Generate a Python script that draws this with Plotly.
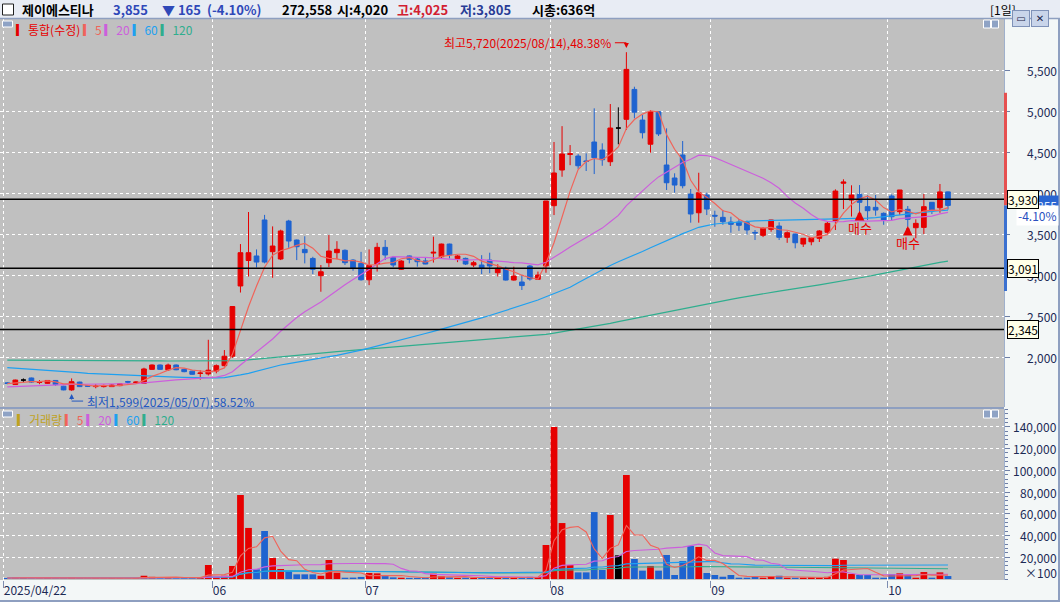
import numpy as np
import pandas as pd
import plotly.graph_objects as go
from plotly.subplots import make_subplots

# ---------------- data ----------------
holidays = ['2025-05-01', '2025-05-05', '2025-05-06', '2025-06-03', '2025-06-06',
            '2025-08-15', '2025-10-03', '2025-10-06', '2025-10-07', '2025-10-08', '2025-10-09']
dates = [d.strftime('%Y-%m-%d') for d in pd.bdate_range('2025-04-22', '2025-10-17')
         if d.strftime('%Y-%m-%d') not in holidays]

open_ = [1695, 1675, 1730, 1755, 1700, 1690, 1725, 1655, 1610, 1705, 1660, 1650, 1650, 1650, 1662, 1712, 1700, 1690, 1860, 1913,
         1855, 1913, 1860, 1838, 1810, 1805, 1840, 1905, 2020, 2875, 3185, 3240, 3678, 3292, 3203, 3665, 3434, 3320, 3210, 3000,
         3158, 3280, 3309, 3190, 3150, 2950, 3142, 3345, 3220, 3078, 3240, 3203, 3180, 3275, 3231, 3385, 3207, 3211, 3130, 3130,
         3190, 3036, 3090, 2947, 2923, 3118, 2956, 3120, 3852, 4286, 4475, 4456, 4396, 4627, 4529, 4387, 4797, 4903, 5267, 4894,
         4600, 4996, 4347, 4189, 4469, 3994, 3766, 3982, 3735, 3710, 3653, 3653, 3645, 3527, 3491, 3564, 3604, 3467, 3507, 3385,
         3413, 3455, 3528, 3669, 4125, 3921, 3990, 3840, 3832, 3759, 3970, 3779, 3808, 3584, 3588, 3893, 3827, 4020]
high = [1705, 1735, 1750, 1760, 1730, 1730, 1730, 1660, 1750, 1710, 1665, 1680, 1675, 1680, 1690, 1720, 1715, 1880, 1920, 1920,
        1930, 1920, 1870, 1845, 1850, 2220, 1920, 2095, 2625, 3385, 3775, 3320, 3740, 3600, 3560, 3680, 3440, 3480, 3230, 3130,
        3495, 3420, 3320, 3200, 3290, 3320, 3400, 3434, 3240, 3190, 3245, 3220, 3220, 3475, 3390, 3390, 3250, 3220, 3180, 3250,
        3280, 3140, 3110, 3110, 3010, 3130, 3050, 3909, 4627, 4820, 4590, 4480, 4489, 5037, 4611, 5089, 5049, 5720, 5300, 4955,
        5016, 5000, 4793, 4246, 4639, 4055, 4253, 4010, 3791, 3800, 3718, 3690, 3670, 3556, 3590, 3680, 3650, 3540, 3510, 3460,
        3470, 3555, 3660, 4051, 4173, 4100, 4103, 3980, 3982, 3770, 3990, 4043, 3848, 3686, 3994, 3893, 4116, 4025]
low = [1680, 1670, 1700, 1695, 1680, 1685, 1660, 1605, 1599, 1645, 1645, 1630, 1640, 1645, 1655, 1685, 1690, 1685, 1855, 1855,
       1840, 1850, 1825, 1795, 1735, 1785, 1812, 1895, 2000, 2795, 2990, 3100, 3150, 2975, 3190, 3340, 3190, 3150, 3020, 2805,
       3105, 3200, 3130, 3060, 2940, 2885, 3050, 3190, 3102, 3070, 3150, 3110, 3140, 3160, 3210, 3210, 3165, 3130, 3105, 3020,
       3030, 2990, 2940, 2940, 2826, 2940, 2950, 3036, 3738, 4204, 4345, 4300, 4274, 4237, 4338, 4335, 4599, 4773, 4915, 4670,
       4497, 4700, 4043, 4010, 4063, 3645, 3645, 3738, 3596, 3620, 3523, 3545, 3500, 3434, 3470, 3535, 3434, 3400, 3333, 3350,
       3370, 3410, 3510, 3556, 3811, 3720, 3779, 3677, 3730, 3620, 3670, 3740, 3596, 3455, 3507, 3750, 3766, 3805]
close = [1690, 1730, 1730, 1705, 1705, 1725, 1675, 1610, 1710, 1650, 1655, 1655, 1658, 1670, 1685, 1705, 1705, 1865, 1913, 1860,
         1913, 1855, 1832, 1800, 1815, 1850, 1905, 2020, 2625, 3280, 3280, 3166, 3166, 3361, 3544, 3422, 3353, 3280, 3078, 3048,
         3300, 3321, 3158, 3097, 2950, 3125, 3345, 3252, 3130, 3178, 3199, 3170, 3142, 3285, 3385, 3252, 3240, 3142, 3158, 3090,
         3118, 3090, 2947, 2996, 2880, 2960, 3008, 3909, 4250, 4481, 4485, 4338, 4390, 4436, 4411, 4797, 4797, 5511, 4990, 4740,
         4996, 4725, 4131, 4103, 4095, 3751, 4010, 3811, 3725, 3657, 3625, 3613, 3556, 3520, 3576, 3678, 3467, 3523, 3401, 3455,
         3462, 3544, 3637, 4030, 4140, 3982, 3893, 3791, 3799, 3678, 3718, 4043, 3686, 3637, 3840, 3787, 4020, 3855]
volume = [900, 1500, 800, 1000, 700, 1200, 900, 1100, 1500, 900, 700, 800, 600, 900, 800, 700, 800, 3000, 2000, 1200,
          1500, 1000, 1200, 1500, 1300, 12900, 1500, 3000, 12000, 77300, 47000, 8900, 44200, 19300, 9200, 7400, 4300, 4300, 4300, 3000,
          17500, 5800, 1200, 1300, 1900, 5500, 5200, 2700, 1500, 1200, 1000, 1000, 1200, 4900, 2500, 1500, 1000, 1200, 1000, 1500,
          1500, 1200, 1500, 1200, 1500, 2000, 1800, 31300, 139900, 51500, 12900, 6100, 6100, 61600, 8300, 58900, 21800, 95700, 18400, 7700,
          12000, 7700, 22100, 3700, 16600, 30400, 29500, 5500, 3700, 2100, 3700, 1200, 1200, 2500, 1200, 2500, 3000, 1200, 1200, 1200,
          1500, 1200, 2000, 18700, 17500, 4600, 3700, 3700, 1200, 1200, 4300, 5200, 3700, 1200, 6400, 1200, 6100, 2726]
prior_close = [1640, 1625, 1615, 1600, 1610, 1620, 1635, 1630, 1620, 1640, 1650, 1660, 1655, 1645, 1660, 1675, 1690, 1680, 1695]
ma60 = [1880, 1874, 1869, 1863, 1858, 1852, 1844, 1836, 1828, 1820, 1812, 1807, 1802, 1797, 1792, 1787, 1783, 1780, 1776, 1773,
        1770, 1766, 1763, 1760, 1758, 1756, 1757, 1760, 1772, 1792, 1812, 1838, 1862, 1888, 1913, 1930, 1945, 1962, 1980, 1997,
        2014, 2031, 2050, 2071, 2095, 2119, 2143, 2168, 2193, 2217, 2243, 2269, 2296, 2322, 2348, 2375, 2403, 2431, 2459, 2487,
        2515, 2546, 2577, 2609, 2641, 2672, 2704, 2743, 2782, 2821, 2860, 2915, 2970, 3025, 3080, 3125, 3170, 3215, 3255, 3295,
        3340, 3385, 3430, 3474, 3512, 3550, 3589, 3610, 3629, 3638, 3647, 3656, 3665, 3667, 3669, 3671, 3673, 3675, 3678, 3679,
        3680, 3682, 3683, 3685, 3686, 3690, 3695, 3700, 3706, 3718, 3730, 3742, 3754, 3766, 3775, 3783, 3791, 3799]
ma120 = [1972, 1972, 1971, 1971, 1970, 1970, 1969, 1969, 1968, 1968, 1967, 1967, 1966, 1966, 1965, 1965, 1964, 1964, 1963, 1963,
         1962, 1962, 1961, 1961, 1960, 1960, 1960, 1961, 1963, 1967, 1975, 1985, 1995, 2005, 2015, 2025, 2035, 2043, 2051, 2059,
         2067, 2075, 2083, 2091, 2099, 2107, 2115, 2123, 2131, 2139, 2147, 2155, 2163, 2171, 2179, 2187, 2195, 2203, 2211, 2219,
         2227, 2235, 2243, 2251, 2259, 2267, 2275, 2287, 2302, 2318, 2334, 2350, 2366, 2382, 2400, 2420, 2440, 2460, 2480, 2500,
         2520, 2540, 2560, 2580, 2600, 2620, 2640, 2658, 2676, 2694, 2712, 2730, 2748, 2764, 2780, 2796, 2812, 2828, 2840, 2856,
         2872, 2888, 2904, 2920, 2936, 2952, 2970, 2990, 3010, 3030, 3050, 3070, 3090, 3110, 3128, 3145, 3162, 3178]
hlines = [3930, 3091, 2345]
price_ticks = [2000, 2500, 3000, 3500, 4000, 4500, 5000, 5500]
vol_ticks = [20000, 40000, 60000, 80000, 100000, 120000, 140000]
buy_signals = [106, 112]

stock_name = '제이에스티나'
last_price, change, change_pct, last_vol = 3855, 165, -4.10, 272558
day_open, day_high, day_low, mcap = 4020, 4025, 3805, '636억'
high_pct, low_pct = 48.38, 58.52

# ---------------- derived ----------------
n = len(close)
dates = dates[:n]
x = np.arange(n)
o = np.array(open_, float); h = np.array(high, float); l = np.array(low, float); c = np.array(close, float)
ext = pd.Series(prior_close + close, dtype=float)
ma5 = ext.rolling(5).mean().values[len(prior_close):]
ma20 = ext.rolling(20).mean().values[len(prior_close):]
vs = pd.Series(volume, dtype=float)
vma = {k: vs.rolling(k, min_periods=1).mean().values for k in (5, 20, 60, 120)}
prev_close = last_price + change
upper_limit, lower_limit = prev_close * 1.3, prev_close * 0.7

RED = '#e60000'; BLUE = '#1e63d0'; BLACK = '#000000'
C5 = '#f0645a'; C20 = '#cc5fdc'; C60 = '#1ea0f0'; C120 = '#2fae8e'
FONT = 'Noto Sans CJK KR'
AXTXT = '#1c2a55'

up = c > o; dn = c < o; fl = c == o

# pixel helpers for the 1060x602 canvas (plot area x 0..1004, y 19..580)
PW, PT, PB = 1004.0, 19.0, 580.0
def px(xp): return xp / PW
def py(yp): return (PB - yp) / (PB - PT)

fig = make_subplots(rows=2, cols=1, shared_xaxes=True, vertical_spacing=0.0)

def cs(mask, col, name):
    return go.Candlestick(x=x, open=np.where(mask, o, np.nan), high=np.where(mask, h, np.nan),
                          low=np.where(mask, l, np.nan), close=np.where(mask, c, np.nan),
                          increasing=dict(line=dict(color=col, width=1), fillcolor=col),
                          decreasing=dict(line=dict(color=col, width=1), fillcolor=col),
                          whiskerwidth=0, name=name, showlegend=False, hoverinfo='skip')

fig.add_trace(go.Scatter(x=x, y=ma120, mode='lines', line=dict(color=C120, width=1.2), showlegend=False, hoverinfo='skip'), row=1, col=1)
fig.add_trace(go.Scatter(x=x, y=ma60, mode='lines', line=dict(color=C60, width=1.2), showlegend=False, hoverinfo='skip'), row=1, col=1)
fig.add_trace(go.Scatter(x=x, y=ma20, mode='lines', line=dict(color=C20, width=1.2), showlegend=False, hoverinfo='skip'), row=1, col=1)
fig.add_trace(go.Scatter(x=x, y=ma5, mode='lines', line=dict(color=C5, width=1.2), showlegend=False, hoverinfo='skip'), row=1, col=1)
fig.add_trace(cs(up, RED, 'up'), row=1, col=1)
fig.add_trace(cs(dn, BLUE, 'down'), row=1, col=1)
fig.add_trace(cs(fl, BLACK, 'flat'), row=1, col=1)

vcol = [RED if u else (BLUE if d else BLACK) for u, d in zip(up, dn)]
fig.add_trace(go.Bar(x=x, y=volume, marker=dict(color=vcol, line=dict(width=0)), width=0.84,
                     showlegend=False, hoverinfo='skip'), row=2, col=1)
for k, col in ((120, C120), (60, C60), (20, C20), (5, C5)):
    fig.add_trace(go.Scatter(x=x, y=vma[k], mode='lines', line=dict(color=col, width=1.1),
                             showlegend=False, hoverinfo='skip'), row=2, col=1)

# month ticks at slot edges (the month right after the first date carries no label)
month_idx = [0] + [i for i in range(10, n) if dates[i][5:7] != dates[i - 1][5:7]]
tickvals = [i - 0.5 for i in month_idx]
ticktext = [dates[0].replace('-', '/')] + [dates[i][5:7] for i in month_idx[1:]]

slot = 8.04
r0 = -7.3 / slot
r1 = r0 + PW / slot
common_x = dict(range=[r0, r1], showgrid=True, gridcolor='#ffffff', griddash='dot', gridwidth=1,
                tickvals=tickvals, zeroline=False, showline=False, fixedrange=True)
fig.update_xaxes(**common_x, row=1, col=1, showticklabels=False, ticks='')
fig.update_xaxes(**common_x, row=2, col=1, ticktext=ticktext, ticks='outside', ticklen=7, tickcolor='#7d8db0',
                 ticklabelposition='outside right', tickfont=dict(family=FONT, size=12, color=AXTXT))
fig.update_xaxes(rangeslider_visible=False)

fig.update_yaxes(row=1, col=1, domain=[py(407), 1.0], range=[1402, 6124], side='right', tickvals=price_ticks,
                 showticklabels=False, showgrid=True, gridcolor='#ffffff', griddash='dot', zeroline=False,
                 ticks='outside', ticklen=5, tickcolor='#6d7ea5', showline=True, linecolor='#9fb0cc', fixedrange=True)
fig.update_yaxes(row=2, col=1, domain=[0.0, py(409)], range=[-920, 156470], side='right', tickvals=vol_ticks,
                 showticklabels=False, showgrid=True, gridcolor='#ffffff', griddash='dot', zeroline=False,
                 ticks='outside', ticklen=5, tickcolor='#6d7ea5', showline=True, linecolor='#9fb0cc',
                 minor=dict(ticks='outside', ticklen=3, dtick=4000, tickcolor='#6d7ea5', showgrid=False), fixedrange=True)

ann = []
shapes = []

# top bar background and separators
shapes.append(dict(type='rect', xref='paper', yref='paper', x0=px(0), x1=px(1060), y0=py(18), y1=py(0),
                   fillcolor='#e8ecf4', line=dict(width=0), layer='below'))
shapes.append(dict(type='line', xref='paper', yref='paper', x0=px(0), x1=px(1060), y0=py(18.5), y1=py(18.5),
                   line=dict(color='#8e9fc0', width=1.5)))
shapes.append(dict(type='line', xref='paper', yref='paper', x0=0, x1=1, y0=py(408), y1=py(408),
                   line=dict(color='#8e9fc0', width=2)))
shapes.append(dict(type='line', xref='paper', yref='paper', x0=px(1059), x1=px(1059), y0=py(602), y1=py(18),
                   line=dict(color='#8e9fc0', width=2)))
shapes.append(dict(type='line', xref='paper', yref='paper', x0=px(0), x1=px(1060), y0=py(601), y1=py(601),
                   line=dict(color='#8e9fc0', width=2)))
# checkbox
shapes.append(dict(type='rect', xref='paper', yref='paper', x0=px(2.5), x1=px(13.5), y0=py(15), y1=py(4),
                   fillcolor='#ffffff', line=dict(color='#202020', width=1)))
# pane icons
for yy in (21, 411):
    shapes.append(dict(type='rect', xref='paper', yref='paper', x0=px(2.5), x1=px(12.5), y0=py(yy + 6), y1=py(yy),
                       fillcolor='#8fa3c5', line=dict(color='#ffffff', width=1)))
    for xx in (983.5, 991.5):
        shapes.append(dict(type='rect', xref='paper', yref='paper', x0=px(xx), x1=px(xx + 7), y0=py(yy + 7), y1=py(yy - 1),
                           fillcolor='#8fa3c5', line=dict(color='#ffffff', width=1)))

# horizontal user lines
for v in hlines:
    shapes.append(dict(type='line', xref='paper', yref='y', x0=0, x1=1, y0=v, y1=v, line=dict(color='#000000', width=1.5)))

# right-edge daily limit strip
shapes.append(dict(type='rect', xref='paper', yref='y', x0=px(1004), x1=px(1007), y0=upper_limit, y1=last_price,
                   fillcolor='#e65050', line=dict(width=0)))
shapes.append(dict(type='rect', xref='paper', yref='y', x0=px(1004), x1=px(1007), y0=lower_limit, y1=last_price,
                   fillcolor='#3a70d0', line=dict(width=0)))

def t(xp, yp, text, color='#000000', size=13, anchor='left', bold=False, yref='paper', bg=None, border=None):
    d = dict(xref='paper', yref=yref, x=px(xp), y=(py(yp) if yref == 'paper' else yp), text=(f'<b>{text}</b>' if bold else text),
             showarrow=False, xanchor=anchor, yanchor='middle', font=dict(family=FONT, size=size, color=color))
    if bg: d['bgcolor'] = bg
    if border:
        d['bordercolor'] = border; d['borderwidth'] = 1; d['borderpad'] = 0
    ann.append(d)

# top bar texts
t(20, 9.5, stock_name, bold=True)
t(111, 9.5, f'{last_price:,}', color='#2f48b8', bold=True)
t(160, 9.5, f'▼ {change}', color='#2f48b8', bold=True)
t(205, 9.5, f'({change_pct:.2f}%)', color='#2f48b8', bold=True)
t(280, 9.5, f'{last_vol:,}', bold=True)
t(335, 9.5, f'시:{day_open:,}', bold=True)
t(395, 9.5, f'고:{day_high:,}', color='#d21e32', bold=True)
t(458, 9.5, f'저:{day_low:,}', color='#283c96', bold=True)
t(530, 9.5, f'시총:{mcap}', bold=True)
t(1018, 9.5, '[1일]', anchor='right', size=12)
for xx, sym in ((1022, '▭'), (1041, '✕')):
    ann.append(dict(xref='paper', yref='paper', x=px(xx + 8), y=py(9.5), text=sym, showarrow=False,
                    font=dict(family='DejaVu Sans', size=10, color='#1a2448'), bgcolor='#c9d5ea',
                    bordercolor='#7f92b8', borderwidth=1, borderpad=1, width=14, height=13))

# pane legends
def sp(col, txt):
    return f'<span style="color:{col}">{txt}</span>'
bar = '▎'
t(14, 29, sp(RED, bar + '통합(수정)') + ' ' + sp(C5, bar + '5') + ' ' + sp(C20, bar + '20') + ' ' + sp(C60, bar + '60')
  + ' ' + sp(C120, bar + '120'), size=12)
t(15, 419, sp('#bfa21e', bar + '거래량') + ' ' + sp(C5, bar + '5') + ' ' + sp(C20, bar + '20') + ' '
  + sp(C60, bar + '60') + ' ' + sp(C120, bar + '120'), size=12)

# axis labels
for v in price_ticks:
    t(1059, v, f'{v:,}', color=AXTXT, size=12, anchor='right', yref='y')
for v in vol_ticks:
    t(1059, v, f'{v:,}', color=AXTXT, size=12, anchor='right', yref='y2')
t(1059, 572, '×100', color=AXTXT, size=12, anchor='right')

# current price tag
t(1059, last_price, f'{last_price:,}', color='#e8f0ff', size=12, anchor='right', yref='y', bg='#2a66d2')
t(1059, 3735, f'{change_pct:.2f}%', color='#2a50c0', size=12, anchor='right', yref='y', bg='#ffffff')
# boxed line values
for v in hlines:
    t(1007, v, f'{v:,}', color='#000000', size=12, anchor='left', yref='y', bg='#ffffe8', border='#000000')

# high / low annotations
imax = int(np.argmax(h)); imin = int(np.argmin(l))
ann.append(dict(xref='x', yref='y', x=imax, y=h[imax] + 115, text=f'최고{int(h[imax]):,}({dates[imax].replace("-", "/")}),{high_pct:.2f}%',
                showarrow=False, xanchor='right', yanchor='middle', xshift=-13,
                font=dict(family=FONT, size=12, color=RED)))
ann.append(dict(xref='x', yref='y', x=imax, y=h[imax] + 115, ax=-13, ay=0, text='', showarrow=True,
                arrowhead=0, arrowwidth=1, arrowcolor=RED, standoff=0))
ann.append(dict(xref='x', yref='y', x=imax, y=h[imax] + 50, ax=0, ay=-6, text='', showarrow=True,
                arrowhead=2, arrowsize=1, arrowwidth=1, arrowcolor=RED, standoff=0))
ann.append(dict(xref='x', yref='y', x=imin, y=l[imin] - 125, text=f'최저{int(l[imin]):,}({dates[imin].replace("-", "/")}),{low_pct:.2f}%',
                showarrow=False, xanchor='left', yanchor='middle', xshift=13,
                font=dict(family=FONT, size=12, color='#2358c0')))
ann.append(dict(xref='x', yref='y', x=imin, y=l[imin] - 125, ax=13, ay=0, text='', showarrow=True,
                arrowhead=0, arrowwidth=1, arrowcolor='#2358c0', standoff=0))
ann.append(dict(xref='x', yref='y', x=imin, y=l[imin] - 40, ax=0, ay=7, text='', showarrow=True,
                arrowhead=2, arrowsize=1, arrowwidth=1, arrowcolor='#2358c0', standoff=0))

# buy signals
for i in buy_signals:
    ann.append(dict(xref='x', yref='y', x=i, y=l[i] + 10, ax=0, ay=8, text='', showarrow=True,
                    arrowhead=2, arrowsize=0.55, arrowwidth=3.5, arrowcolor=RED, standoff=0))
    ann.append(dict(xref='x', yref='y', x=i, y=l[i] - 190, text='매수', showarrow=False,
                    font=dict(family=FONT, size=13, color=RED)))

fig.update_layout(width=1060, height=602, margin=dict(l=0, r=56, t=19, b=22),
                  paper_bgcolor='#f3f7f7', plot_bgcolor='#c0c0c0', showlegend=False,
                  boxgap=0.16, bargap=0.12, annotations=ann, shapes=shapes,
                  font=dict(family=FONT, size=12, color=AXTXT), hovermode=False)

fig.write_html('out.html', config={'displayModeBar': False, 'staticPlot': True},
               post_script="document.body.style.margin='0';document.body.style.overflow='hidden';")
